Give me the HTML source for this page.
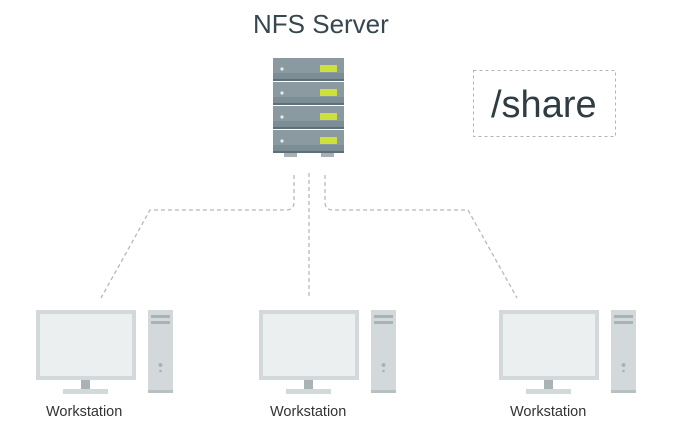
<!DOCTYPE html>
<html><head><style>
html,body{margin:0;padding:0;background:#fff;}
body{width:675px;height:441px;overflow:hidden;}
</style></head><body>
<svg width="675" height="441" viewBox="0 0 675 441" xmlns="http://www.w3.org/2000/svg">
<text x="253" y="33" font-family="Liberation Sans, sans-serif" font-size="26" fill="#37474f">NFS Server</text>
<rect x="473.5" y="70.5" width="142" height="66" fill="none" stroke="#b0b4b6" stroke-dasharray="3,3"/>
<text x="491" y="117" font-family="Liberation Sans, sans-serif" font-size="38" fill="#2f3d43">/share</text>
<g>
<rect x="284" y="150" width="13" height="7" fill="#a7b0b3"/>
<rect x="321" y="150" width="13" height="7" fill="#a7b0b3"/>
<g id="u"><rect x="273" y="58" width="71" height="23" fill="#7d8d95"/><rect x="273" y="58" width="71" height="15" fill="#8b9aa1"/><rect x="273" y="79" width="71" height="2" fill="#5f6f77"/><circle cx="282" cy="69" r="1.6" fill="#e6ecee"/><rect x="320" y="65" width="17" height="7" fill="#cfe03a"/></g>
<use href="#u" y="24"/><use href="#u" y="48"/><use href="#u" y="72"/>
</g>
<g fill="none" stroke="#b5b9bb" stroke-width="1.3" stroke-dasharray="4,3">
<path d="M294 175 V202 Q294 210 286 210 H150 L101 298"/>
<path d="M309 173 V298"/>
<path d="M325 175 V202 Q325 210 333 210 H468 L517 298"/>
</g>
<defs><g id="ws">
<rect x="0" y="0" width="100" height="70" fill="#d3d9db"/>
<rect x="4" y="4" width="92" height="62" fill="#eceff0"/>
<rect x="45" y="70" width="9" height="10" fill="#a9b3b6"/>
<rect x="27" y="79" width="45" height="5" fill="#d3d9db"/>
<rect x="112" y="0" width="25" height="83" fill="#d3d9db"/>
<rect x="115" y="5" width="19" height="3" fill="#a9b3b6"/>
<rect x="115" y="11" width="19" height="3" fill="#a9b3b6"/>
<circle cx="124.5" cy="55" r="2" fill="#a9b3b6"/>
<circle cx="124.5" cy="61" r="1.3" fill="#a9b3b6"/>
<rect x="112" y="80" width="25" height="3" fill="#b7c0c3"/>
</g></defs>
<use href="#ws" x="36" y="310"/>
<use href="#ws" x="259" y="310"/>
<use href="#ws" x="499" y="310"/>
<g font-family="Liberation Sans, sans-serif" font-size="14.5" fill="#333">
<text x="46" y="416">Workstation</text>
<text x="270" y="416">Workstation</text>
<text x="510" y="416">Workstation</text>
</g>
</svg>
</body></html>
